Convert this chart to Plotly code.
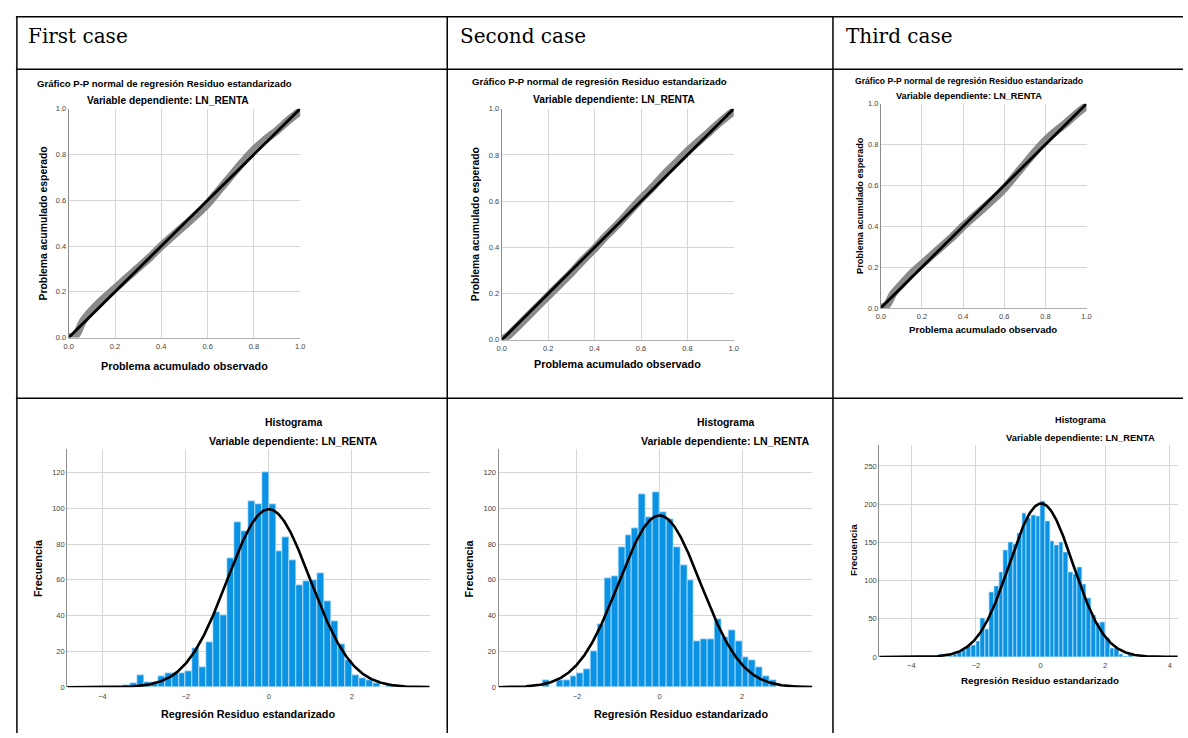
import numpy as np
import plotly.graph_objects as go

W, H = 1188, 738

# ---------------- data ----------------
case_labels = ["First case", "Second case", "Third case"]

pp_title = "Gráfico P-P normal de regresión Residuo estandarizado"
dep_subtitle = "Variable dependiente: LN_RENTA"
pp_xtitle = "Problema acumulado observado"
pp_ytitle = "Problema acumulado esperado"
hist_title = "Histograma"
hist_xtitle = "Regresión Residuo estandarizado"
hist_ytitle = "Frecuencia"

pp_ticks = [0.0, 0.2, 0.4, 0.6, 0.8, 1.0]
pp_ref = [0.0, 1.0]

pp1_obs = [0.0, 0.03, 0.06, 0.10, 0.15, 0.20, 0.25, 0.30, 0.35, 0.40, 0.45, 0.50, 0.55, 0.60, 0.65, 0.70, 0.75, 0.80, 0.85, 0.90, 0.95, 1.0]
pp1_exp = [0.0, 0.01, 0.07, 0.12, 0.17, 0.215, 0.26, 0.305, 0.35, 0.40, 0.445, 0.49, 0.535, 0.585, 0.645, 0.705, 0.765, 0.82, 0.865, 0.905, 0.95, 0.99]
pp2_obs = [0.0, 0.03, 0.06, 0.10, 0.15, 0.20, 0.25, 0.30, 0.35, 0.40, 0.45, 0.50, 0.55, 0.60, 0.65, 0.70, 0.75, 0.80, 0.85, 0.90, 0.95, 1.0]
pp2_exp = [0.0, 0.02, 0.05, 0.09, 0.14, 0.19, 0.24, 0.29, 0.345, 0.395, 0.45, 0.50, 0.555, 0.61, 0.66, 0.715, 0.765, 0.815, 0.86, 0.905, 0.95, 0.99]
pp3_obs = [0.0, 0.03, 0.06, 0.10, 0.15, 0.20, 0.25, 0.30, 0.35, 0.40, 0.45, 0.50, 0.55, 0.60, 0.65, 0.70, 0.75, 0.80, 0.85, 0.90, 0.95, 1.0]
pp3_exp = [0.0, 0.015, 0.07, 0.115, 0.17, 0.215, 0.26, 0.305, 0.35, 0.40, 0.445, 0.49, 0.535, 0.585, 0.645, 0.705, 0.765, 0.82, 0.865, 0.905, 0.95, 0.99]

# Histogram counts (bins of constant width starting at hist*_start)
hist1_counts = [1, 2, 7, 3, 3, 6, 8, 8, 8, 9, 22, 11, 25, 42, 40, 72, 92, 87, 104, 102, 120,
                102, 76, 84, 71, 57, 59, 60, 64, 48, 37, 24, 15, 7, 5, 4, 2, 0, 1]
hist1_start, hist1_width = -21 / 6, 1 / 6
hist1_mean, hist1_sd = 0.0, 0.995

hist2_counts = [4, 0, 4, 4, 6, 8, 10, 20, 35, 61, 62, 78, 85, 89, 108, 95, 109,
                98, 94, 78, 68, 60, 26, 27, 27, 38, 28, 32, 26, 17, 15, 11, 6, 4]
hist2_start, hist2_width = -17 / 6, 1 / 6
hist2_mean, hist2_sd = 0.0, 0.993

hist3_counts = [4, 0, 1, 4, 6, 9, 14, 15,
                21, 51, 36, 84, 93, 111, 139, 150, 147, 162, 188, 182, 185, 184,
                204, 178, 151, 146, 150, 137, 111, 108, 117, 95, 77, 55, 44, 45, 25, 12, 12, 3, 1, 3]
hist3_start, hist3_width = -22 / 7, 1 / 7
hist3_mean, hist3_sd = 0.02, 0.982

# ---------------- layout helpers ----------------
FONT = "Liberation Sans"
GRID = "#d6d6d6"
BAR = "#0A93E4"


def px_x(x):
    return x / W


def px_y(y):
    return 1 - y / H


panels = {
    # name: (x0, x1, y0top, y1bottom) in pixels
    "pp1": (64.3, 297.7, 106, 337.7),
    "pp2": (501, 735, 106, 340),
    "pp3": (883.3, 1090.7, 101, 307.7),
    "h1": (62.7, 428.3, 450.7, 691.7),
    "h2": (497.7, 814.3, 450.7, 691.7),
    "h3": (881.7, 1182.7, 446.7, 661),
}
order = ["pp1", "pp2", "pp3", "h1", "h2", "h3"]

fig = go.Figure()
layout = dict(width=W, height=H, margin=dict(l=0, r=0, t=0, b=0),
              paper_bgcolor="white", plot_bgcolor="white", showlegend=False,
              bargap=0)

tickfont = dict(family=FONT, size=7.5, color="#444")

for i, name in enumerate(order):
    n = "" if i == 0 else str(i + 1)
    x0, x1, yt, yb = panels[name]
    xa = dict(domain=[px_x(x0), px_x(x1)], anchor="y" + n, showgrid=True, gridcolor=GRID,
              gridwidth=1, zeroline=False, ticks="", tickfont=tickfont, fixedrange=True,
              showline=False, ticklabelstandoff=3)
    ya = dict(domain=[px_y(yb), px_y(yt)], anchor="x" + n, showgrid=True, gridcolor=GRID,
              gridwidth=1, zeroline=False, ticks="", tickfont=tickfont, fixedrange=True,
              showline=True, linecolor="#8c8c8c", linewidth=1)
    layout["xaxis" + n] = xa
    layout["yaxis" + n] = ya

# P-P axes
for i, name in enumerate(["pp1", "pp2", "pp3"]):
    n = "" if i == 0 else str(i + 1)
    layout["xaxis" + n].update(range=[0, 1], tickvals=pp_ticks, tickformat=".1f",
                               showline=True, linecolor="#b0b0b0", linewidth=1,
                               ticklabelstandoff=1)
    layout["yaxis" + n].update(range=[0, 1], tickvals=pp_ticks, tickformat=".1f")

# Histogram axes
hist_cfg = [
    ("h1", 4, hist1_counts, hist1_start, hist1_width, hist1_mean, hist1_sd, [-4.85, 3.87], [0, 133], [-4, -2, 0, 2], 20),
    ("h2", 5, hist2_counts, hist2_start, hist2_width, hist2_mean, hist2_sd, [-3.9, 3.705], [0, 133], [-2, 0, 2], 20),
    ("h3", 6, hist3_counts, hist3_start, hist3_width, hist3_mean, hist3_sd, [-4.99, 4.245], [0, 277], [-4, -2, 0, 2, 4], 50),
]
for name, k, counts, start, width, mu, sd, xr, yr, xt, dt in hist_cfg:
    n = str(k)
    layout["xaxis" + n].update(range=xr, tickvals=xt)
    layout["yaxis" + n].update(range=yr, dtick=dt, tick0=0)

fig.update_layout(**layout)

# ---------------- traces ----------------
pp_data = [(pp1_obs, pp1_exp), (pp2_obs, pp2_exp), (pp3_obs, pp3_exp)]
for i, (obs, exp) in enumerate(pp_data):
    n = "" if i == 0 else str(i + 1)
    fig.add_trace(go.Scatter(x=obs, y=exp, mode="lines", xaxis="x" + n, yaxis="y" + n,
                             line=dict(color="#8a8a8a", width=8, shape="spline"),
                             hoverinfo="skip"))
    fig.add_trace(go.Scatter(x=pp_ref, y=pp_ref, mode="lines", xaxis="x" + n, yaxis="y" + n,
                             line=dict(color="black", width=2.8), hoverinfo="skip"))

for name, k, counts, start, width, mu, sd, xr, yr, xt, dt in hist_cfg:
    n = str(k)
    counts = np.array(counts, dtype=float)
    centers = start + width * (np.arange(len(counts)) + 0.5)
    fig.add_trace(go.Bar(x=centers, y=counts, width=width, xaxis="x" + n, yaxis="y" + n,
                         marker=dict(color=BAR, line=dict(color="#cfe9fb", width=0.7)),
                         hoverinfo="skip"))
    total = counts.sum()
    xs = np.linspace(xr[0], xr[1], 500)
    ys = total * width * np.exp(-0.5 * ((xs - mu) / sd) ** 2) / (sd * np.sqrt(2 * np.pi))
    fig.add_trace(go.Scatter(x=xs, y=ys, mode="lines", xaxis="x" + n, yaxis="y" + n,
                             line=dict(color="black", width=2.6), hoverinfo="skip"))

# ---------------- annotations ----------------
ann = []


def text(x, y, s, size, bold=True, angle=0, family=FONT, color="black", xanchor="center"):
    ann.append(dict(x=px_x(x), y=px_y(y), xref="paper", yref="paper", text=("<b>%s</b>" % s) if bold else s,
                    showarrow=False, textangle=angle, xanchor=xanchor, yanchor="middle",
                    font=dict(family=family, size=size, color=color)))


# header
text(21, 32, case_labels[0], 20, bold=False, family="DejaVu Serif", xanchor="left")
text(457, 32, case_labels[1], 20, bold=False, family="DejaVu Serif", xanchor="left")
text(846, 32, case_labels[2], 20, bold=False, family="DejaVu Serif", xanchor="left")

# P-P titles
text(160.8, 80, pp_title, 9.6)
text(164, 97.5, dep_subtitle, 10.2)
text(181, 366.5, pp_xtitle, 10.8)
text(38.5, 222, pp_ytitle, 10.4, angle=-90)

text(600, 78, pp_title, 9.6)
text(614, 97, dep_subtitle, 10.2)
text(618, 364, pp_xtitle, 10.8)
text(474, 223, pp_ytitle, 10.4, angle=-90)

text(971.7, 77.5, pp_title, 8.6)
text(971.7, 93.5, dep_subtitle, 9.2)
text(986.7, 330, pp_xtitle, 9.6)
text(861.7, 204, pp_ytitle, 9.2, angle=-90)

# histogram titles
text(290.7, 423.3, hist_title, 10.4)
text(290.7, 442.7, dep_subtitle, 10.6)
text(245, 718.3, hist_xtitle, 10.8)
text(33.3, 571, hist_ytitle, 10.8, angle=-90)

text(726.7, 423.3, hist_title, 10.4)
text(726.7, 442.7, dep_subtitle, 10.6)
text(681.7, 718.3, hist_xtitle, 10.8)
text(468.3, 571, hist_ytitle, 10.8, angle=-90)

text(1085, 421, hist_title, 9.2)
text(1085, 439, dep_subtitle, 9.4)
text(1044, 685, hist_xtitle, 9.8)
text(855, 553, hist_ytitle, 9.8, angle=-90)

fig.update_layout(annotations=ann)

# ---------------- table lines ----------------
shapes = []


def hline(y, xa, xb, w=1.5):
    shapes.append(dict(type="line", xref="paper", yref="paper", x0=px_x(xa), x1=px_x(xb),
                       y0=px_y(y), y1=px_y(y), line=dict(color="black", width=w)))


def vline(x, ya, yb, w=1.5):
    shapes.append(dict(type="line", xref="paper", yref="paper", x0=px_x(x), x1=px_x(x),
                       y0=px_y(ya), y1=px_y(yb), line=dict(color="black", width=w)))


hline(13, 11, 1188)
hline(66, 11, 1188)
hline(399, 11, 1188)
vline(12, 13, 738)
vline(446, 13, 738)
vline(835, 13, 738)

fig.update_layout(shapes=shapes)

fig.write_html("out.html", config={"displayModeBar": False},
               post_script="document.body.style.margin='0';document.body.style.overflow='hidden';")
